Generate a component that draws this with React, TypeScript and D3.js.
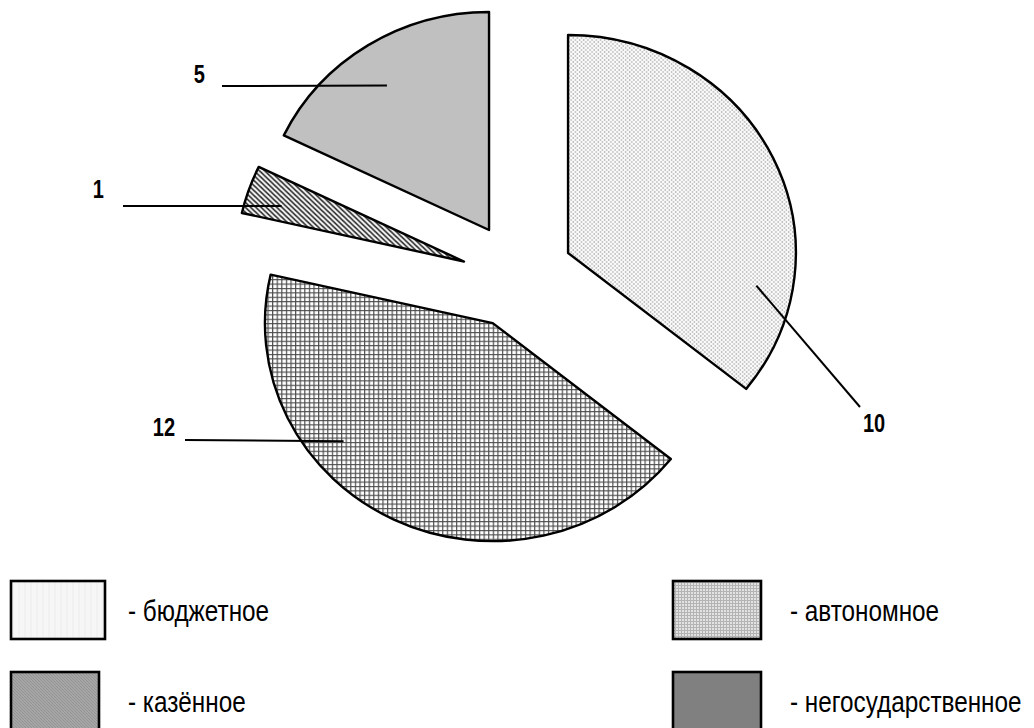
import React from "react";
import * as d3 from "d3";

// ---- data ----
const categories = ["бюджетное", "автономное", "казённое", "негосударственное"];
const pieValues = [10, 12, 1, 5];
const valueLabels = ["10", "12", "1", "5"];
const legendLabels = ["- бюджетное", "- казённое", "- автономное", "- негосударственное"];
const legendKeys = ["бюджетное", "казённое", "автономное", "негосударственное"];

// ---- layout ----
const W = 1034;
const H = 728;
const CX = 514;
const CY = 279;
const R = 218;
const XSCALE = 1.045;
const explode: Record<string, number> = { "бюджетное": 60, "автономное": 49, "казённое": 53, "негосударственное": 55 };
// small angular tweak of explode direction (radians)
const explodeTurn: Record<string, number> = { "бюджетное": 0, "автономное": 0, "казённое": 0, "негосударственное": 0.09 };
// leader inner anchor: fraction of slice angle, fraction of radius
const leaderInner: Record<string, [number, number]> = {
  "бюджетное": [0.78, 0.84],
  "автономное": [0.66, 0.85],
  "казённое": [0.37, 0.84],
  "негосударственное": [0.47, 0.8],
};
// leader outer end and label placement
const leaderOuter: Record<string, { x: number; y: number; tx: number; ty: number; anchor: string }> = {
  "бюджетное": { x: 860, y: 407, tx: 874, ty: 432, anchor: "middle" },
  "автономное": { x: 185, y: 440, tx: 175, ty: 436, anchor: "end" },
  "казённое": { x: 123, y: 206, tx: 104, ty: 198, anchor: "end" },
  "негосударственное": { x: 222, y: 86, tx: 205, ty: 83, anchor: "end" },
};
const fills: Record<string, string> = {
  "бюджетное": "url(#dots)",
  "автономное": "url(#grid)",
  "казённое": "url(#hatch)",
  "негосударственное": "#c0c0c0",
};
const legendFills: Record<string, string> = {
  "бюджетное": "url(#legLight)",
  "казённое": "url(#legDark)",
  "автономное": "url(#legGrid)",
  "негосударственное": "#808080",
};

const FONT = "'Liberation Sans', Arial, sans-serif";

export default function App() {
  const pie = d3
    .pie<number>()
    .sort(null)
    .value((d) => d)
    .startAngle(0)
    .endAngle(2 * Math.PI);
  const arcs = pie(pieValues);
  const arcGen = d3.arc<d3.PieArcDatum<number>>().innerRadius(0).outerRadius(R);

  const legendX = d3.scalePoint<string>().domain(["L", "R"]).range([10, 672]);
  const legendY = d3.scalePoint<string>().domain(["T", "B"]).range([581, 672]);
  const legendPos: Record<string, [string, string]> = {
    "бюджетное": ["L", "T"],
    "казённое": ["L", "B"],
    "автономное": ["R", "T"],
    "негосударственное": ["R", "B"],
  };

  return (
    <svg width={W} height={H} style={{ position: "absolute", left: 0, top: 0, background: "#fff" }}>
      <defs>
        <pattern id="dots" patternUnits="userSpaceOnUse" width="4" height="4">
          <rect width="4" height="4" fill="#fbfbfb" />
          <circle cx="1" cy="1" r="0.8" fill="#9c9c9c" />
          <circle cx="3" cy="3" r="0.8" fill="#9c9c9c" />
        </pattern>
        <pattern id="grid" patternUnits="userSpaceOnUse" width="4.4" height="4.4">
          <rect width="4.4" height="4.4" fill="#ffffff" />
          <path d="M0,0.6 H4.4 M0.6,0 V4.4" stroke="#4a4a4a" strokeWidth="1.1" />
        </pattern>
        <pattern id="hatch" patternUnits="userSpaceOnUse" width="5" height="5">
          <rect width="5" height="5" fill="#ffffff" />
          <path d="M0,0 L5,5 M-1,4 L1,6 M4,-1 L6,1" stroke="#111" strokeWidth="1.5" />
        </pattern>
        <pattern id="legLight" patternUnits="userSpaceOnUse" width="6" height="6">
          <rect width="6" height="6" fill="#f6f6f6" />
          <path d="M1,0 V6" stroke="#ececec" strokeWidth="1" />
        </pattern>
        <pattern id="legDark" patternUnits="userSpaceOnUse" width="3" height="3">
          <rect width="3" height="3" fill="#a6a6a6" />
          <path d="M0,0 L3,3" stroke="#8e8e8e" strokeWidth="0.8" />
        </pattern>
        <pattern id="legGrid" patternUnits="userSpaceOnUse" width="3" height="3">
          <rect width="3" height="3" fill="#e2e2e2" />
          <path d="M0,0.5 H3 M0.5,0 V3" stroke="#b4b4b4" strokeWidth="1" />
        </pattern>
      </defs>

      {arcs.map((a, i) => {
        const key = categories[i];
        const mid = (a.startAngle + a.endAngle) / 2 + explodeTurn[key];
        const d = explode[key];
        const ax = CX + d * Math.sin(mid);
        const ay = CY - d * Math.cos(mid);
        const [fa, fr] = leaderInner[key];
        const la = a.startAngle + fa * (a.endAngle - a.startAngle);
        const ix = ax + XSCALE * fr * R * Math.sin(la);
        const iy = ay - fr * R * Math.cos(la);
        const o = leaderOuter[key];
        return (
          <g key={key}>
            <g transform={`translate(${ax},${ay}) scale(${XSCALE},1)`}>
              <path
                d={arcGen(a) || ""}
                fill={fills[key]}
                stroke="#000"
                strokeWidth={2.4}
                strokeLinejoin="round"
                vectorEffect="non-scaling-stroke"
              />
            </g>
            <line x1={ix} y1={iy} x2={o.x} y2={o.y} stroke="#000" strokeWidth={2} />
            <text
              transform={`translate(${o.tx},${o.ty}) scale(0.8,1)`}
              textAnchor={o.anchor as any}
              fontFamily={FONT}
              fontWeight="bold"
              fontSize={25}
              fill="#000"
            >
              {valueLabels[i]}
            </text>
          </g>
        );
      })}

      {legendKeys.map((key, i) => {
        const [px, py] = legendPos[key];
        const x = legendX(px)!;
        const y = legendY(py)!;
        const bw = key === "бюджетное" ? 94 : 88;
        return (
          <g key={key}>
            <rect x={x + 1} y={y} width={bw} height={58} fill={legendFills[key]} stroke="#000" strokeWidth={2.6} />
            <text
              transform={`translate(${x + 118},${y + 40}) scale(0.81,1)`}
              fontFamily={FONT}
              fontSize={30}
              fill="#000"
            >
              {legendLabels[i]}
            </text>
          </g>
        );
      })}
    </svg>
  );
}
